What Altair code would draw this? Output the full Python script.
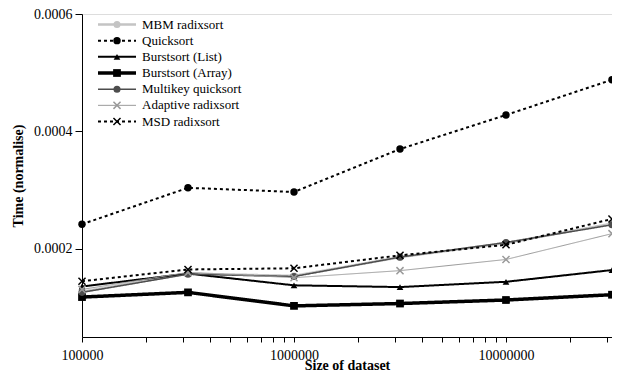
import altair as alt
import pandas as pd

sizes = [100000, 316228, 1000000, 3162278, 10000000, 31622777]

series_names = [
    "MBM radixsort",
    "Quicksort",
    "Burstsort (List)",
    "Burstsort (Array)",
    "Multikey quicksort",
    "Adaptive radixsort",
    "MSD radixsort",
]

mbm = [0.000127, 0.000158, 0.000154, 0.000186, 0.000210, 0.000243]
quicksort = [0.000242, 0.000304, 0.000297, 0.000370, 0.000428, 0.000488]
burst_list = [0.000136, 0.000158, 0.000138, 0.000135, 0.000144, 0.000164]
burst_array = [0.000118, 0.000126, 0.000103, 0.000107, 0.000113, 0.000122]
multikey = [0.000126, 0.000157, 0.000153, 0.000186, 0.000211, 0.000241]
adaptive = [0.000131, 0.000160, 0.000151, 0.000163, 0.000182, 0.000226]
msd = [0.000145, 0.000165, 0.000167, 0.000189, 0.000207, 0.000251]

values = [mbm, quicksort, burst_list, burst_array, multikey, adaptive, msd]

XPATH = "M-1,-1L1,1M-1,1L1,-1"
styles = {
    "MBM radixsort": dict(color="#c4c4c4", width=2.5, dash=[1, 0], shape="circle", filled=True, size=50),
    "Quicksort": dict(color="#000000", width=2, dash=[3, 3], shape="circle", filled=True, size=55),
    "Burstsort (List)": dict(color="#000000", width=2, dash=[1, 0], shape="triangle-up", filled=True, size=45),
    "Burstsort (Array)": dict(color="#000000", width=3.5, dash=[1, 0], shape="square", filled=True, size=60),
    "Multikey quicksort": dict(color="#4d4d4d", width=1.5, dash=[1, 0], shape="circle", filled=True, size=50),
    "Adaptive radixsort": dict(color="#9a9a9a", width=1, dash=[1, 0], shape=XPATH, filled=False, size=50),
    "MSD radixsort": dict(color="#000000", width=2, dash=[3, 3], shape=XPATH, filled=False, size=50),
}

FONT = "Liberation Serif, Times New Roman, serif"
W, H = 530, 323
ydom = [0.00005, 0.0006]
xdom = [100000, 31622777]

minor_ticks = [m * 10 ** e for e in range(5, 8) for m in range(1, 10) if m * 10 ** e <= 31622777]
major_test = "indexof([100000,1000000,10000000], datum.value) >= 0"

xaxis = alt.Axis(
    values=minor_ticks,
    labelExpr=major_test + " ? format(datum.value, 'd') : ''",
    title="Size of dataset",
    grid=False,
    tickSize=5,
    labelFont=FONT, labelFontSize=14, labelColor="black", labelPadding=6, labelFlush=False,
    titleFont=FONT, titleFontSize=14, titleFontWeight="bold", titleColor="black",
    titleY=32, titleBaseline="alphabetic",
    domainColor="black", tickColor="black", labelOverlap=False,
)
yaxis = alt.Axis(
    values=[0.0002, 0.0004, 0.0006],
    format=".4f",
    title="Time (normalise)",
    grid=False, tickSize=7,
    labelFont=FONT, labelFontSize=14, labelColor="black", labelPadding=3,
    titleFont=FONT, titleFontSize=14, titleFontWeight="bold", titleColor="black",
    titleX=-64, titleAngle=270, titleBaseline="middle",
    domainColor="black", tickColor="black",
)

xscale = alt.Scale(type="log", domain=xdom, nice=False)
yscale = alt.Scale(domain=ydom, nice=False, zero=False)

layers = []
for i, (name, vals) in enumerate(zip(series_names, values)):
    st = styles[name]
    df = pd.DataFrame({"size": sizes, "time": vals})
    if i == 0:
        x = alt.X("size:Q", scale=xscale, axis=xaxis)
        y = alt.Y("time:Q", scale=yscale, axis=yaxis)
    else:
        x = alt.X("size:Q", scale=xscale)
        y = alt.Y("time:Q", scale=yscale, axis=None)
    base = alt.Chart(df)
    line = base.mark_line(color=st["color"], strokeWidth=st["width"], strokeDash=st["dash"], clip=False).encode(x=x, y=y)
    pt = base.mark_point(
        shape=st["shape"], filled=st["filled"], size=st["size"], color=st["color"], opacity=1,
        strokeWidth=1.5 if not st["filled"] else 1, clip=False,
    ).encode(x=alt.X("size:Q"), y=alt.Y("time:Q"))
    layers.append(alt.layer(line, pt))

leg_scale = alt.Scale(type="point", domain=series_names, range=[10.5, 107.5], padding=0)
for name in series_names:
    st = styles[name]
    ldf = pd.DataFrame({"series": [name]})
    lb = alt.Chart(ldf)
    ly = alt.Y("series:N", scale=leg_scale, axis=None)
    seg = lb.mark_rule(color=st["color"], strokeWidth=st["width"], strokeDash=st["dash"]).encode(
        x=alt.value(16), x2=alt.value(54), y=ly)
    mk = lb.mark_point(shape=st["shape"], filled=st["filled"], size=st["size"], color=st["color"], opacity=1,
                       strokeWidth=1.5 if not st["filled"] else 1).encode(x=alt.value(35), y=ly)
    tx = lb.mark_text(align="left", baseline="middle", font=FONT, fontSize=13, color="black").encode(
        x=alt.value(60), y=ly, text="series:N")
    layers.append(alt.layer(seg, mk, tx))

chart = alt.layer(*layers).resolve_scale(y="independent").properties(
    width=W, height=H,
    autosize=alt.AutoSizeParams(type="none"),
    padding={"left": 74, "top": 6, "right": 0, "bottom": 35},
).configure_view(stroke=None).configure(background="white")

chart.save("out.html", embed_options={"renderer": "svg", "actions": False})
